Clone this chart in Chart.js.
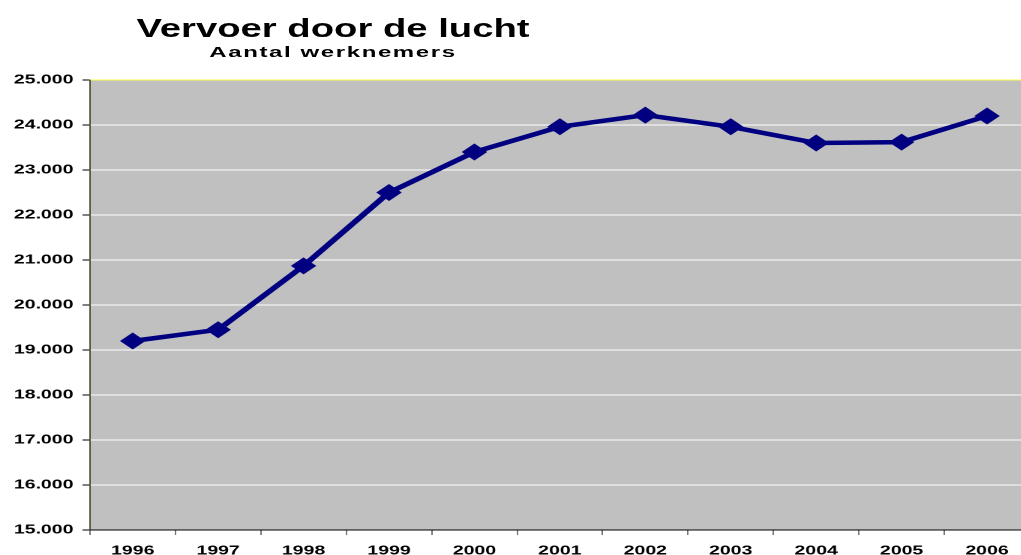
<!DOCTYPE html>
<html>
<head>
<meta charset="utf-8">
<script src="https://cdn.jsdelivr.net/npm/chart.js@4/dist/chart.umd.min.js"></script>
<style>
  html, body { margin: 0; padding: 0; background: #fff; overflow: hidden; }
  #wrap { position: relative; width: 1021px; height: 555px; overflow: hidden; }
  /* the original is an Excel chart stretched sideways by 1.5, so draw narrow and stretch */
  #stretch { position: absolute; left: 0; top: 0; width: 695px; height: 555px;
             transform: scaleX(1.5); transform-origin: 0 0; }
  .ttl { position: absolute; left: 333px; font-family: "Liberation Sans", Arial, sans-serif;
         font-weight: bold; color: #000; white-space: nowrap; line-height: 1; transform-origin: 50% 0; }
  #t1 { top: 16px; font-size: 25px; transform: translateX(-50%) scaleX(1.53); }
  #t2 { top: 44px; font-size: 15px; letter-spacing: 1px; transform: translateX(-50%) scaleX(1.6); }
</style>
</head>
<body>
<div id="wrap">
  <div id="stretch"><canvas id="chart" width="695" height="555"></canvas></div>
  <div class="ttl" id="t1">Vervoer door de lucht</div>
  <div class="ttl" id="t2">Aantal werknemers</div>
</div>
<script>
// ── data ─────────────────────────────────────────────
const years = ['1996', '1997', '1998', '1999', '2000', '2001', '2002', '2003', '2004', '2005', '2006'];
const werknemers = [19200, 19450, 20870, 22500, 23400, 23960, 24220, 23960, 23600, 23620, 24200];
const yTickLabels = ['15.000', '16.000', '17.000', '18.000', '19.000', '20.000',
                     '21.000', '22.000', '23.000', '24.000', '25.000'];

// grey plot area
const plotBg = {
  id: 'plotBg',
  beforeDraw(chart) {
    const { ctx, chartArea: a } = chart;
    ctx.save();
    ctx.fillStyle = '#c0c0c0';
    ctx.fillRect(a.left, a.top, a.right - a.left, a.bottom - a.top);
    ctx.restore();
  }
};

const font = { family: '"Liberation Sans", Arial, sans-serif', size: 13, weight: 'bold' };

new Chart(document.getElementById('chart'), {
  type: 'line',
  data: {
    labels: years,
    datasets: [{
      data: werknemers,
      borderColor: '#000080',
      borderWidth: 4.5,
      tension: 0,
      pointStyle: 'rectRot',
      pointRadius: 8.5,
      pointHoverRadius: 8.5,
      pointBackgroundColor: '#000080',
      pointBorderColor: '#000080',
      pointBorderWidth: 0
    }]
  },
  options: {
    responsive: false,
    devicePixelRatio: 2,
    animation: false,
    events: [],
    layout: { padding: { top: 80, left: 0, right: 0, bottom: 0 } },
    plugins: { legend: { display: false }, title: { display: false }, tooltip: { enabled: false } },
    scales: {
      x: {
        offset: true,
        afterFit: s => { s.height = 25; s.paddingLeft = 0; s.paddingRight = 0; },
        grid: { offset: true, drawOnChartArea: false, tickLength: 5, tickColor: '#555', lineWidth: 0.8 },
        border: { color: '#000', width: 1 },
        ticks: { color: '#000', font, padding: 8, maxRotation: 0, autoSkip: false }
      },
      y: {
        min: 15000, max: 25000,
        afterFit: s => { s.width = 60; s.paddingTop = 0; s.paddingBottom = 0; },
        grid: {
          color: c => (c.tick && c.tick.value === 25000 ? '#ffff40' : '#ffffff'),
          lineWidth: 1, tickLength: 5, tickColor: '#000'
        },
        border: { color: '#333310', width: 0.8 },
        ticks: {
          stepSize: 1000, color: '#000', font, padding: 6,
          callback: (v, i) => yTickLabels[i]
        }
      }
    }
  },
  plugins: [plotBg]
});
</script>
</body>
</html>
